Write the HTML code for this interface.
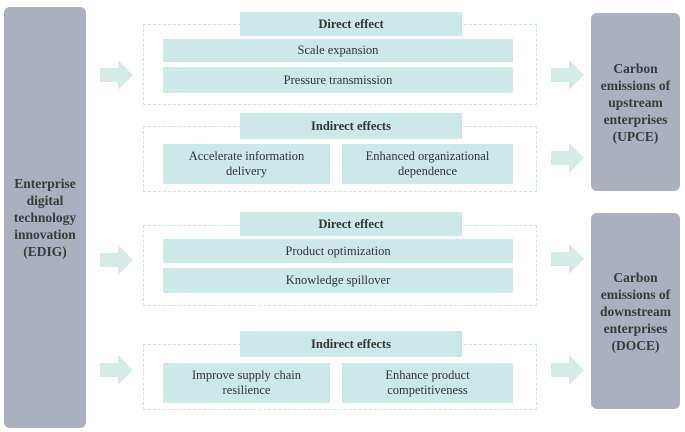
<!DOCTYPE html>
<html><head><style>
body{margin:0;width:685px;height:432px;background:#fff;position:relative;font-family:"Liberation Serif",serif;color:#333;overflow:hidden}
div{position:absolute;box-sizing:border-box}
.g{background:#aab0bd;border-radius:6px;display:flex;align-items:center;justify-content:center;text-align:center;font-weight:bold;font-size:13.5px;line-height:17px;color:#3a3a3a}
.d{border:1px dashed #cfe6e2}
.b{background:#cde8e8;display:flex;align-items:center;justify-content:center;text-align:center;font-size:12.5px;line-height:15px}
.h{font-weight:bold;font-size:12.5px}
svg{position:absolute}
</style></head><body>
<div class="g" style="left:4px;top:7px;width:82px;height:421px">Enterprise<br>digital<br>technology<br>innovation<br>(EDIG)</div>
<div class="g" style="left:591px;top:13px;width:89px;height:178px">Carbon<br>emissions of<br>upstream<br>enterprises<br>(UPCE)</div>
<div class="g" style="left:591px;top:213px;width:89px;height:196px">Carbon<br>emissions of<br>downstream<br>enterprises<br>(DOCE)</div>

<div class="d" style="left:143px;top:24px;width:394px;height:81px"></div>
<div class="b h" style="left:240px;top:12px;width:222px;height:24px">Direct effect</div>
<div class="b" style="left:163px;top:39px;width:350px;height:23px">Scale expansion</div>
<div class="b" style="left:163px;top:67px;width:350px;height:26px">Pressure transmission</div>

<div class="d" style="left:143px;top:126px;width:394px;height:66px"></div>
<div class="b h" style="left:240px;top:113px;width:222px;height:26px">Indirect effects</div>
<div class="b" style="left:163px;top:144px;width:167px;height:40px">Accelerate information<br>delivery</div>
<div class="b" style="left:342px;top:144px;width:171px;height:40px">Enhanced organizational<br>dependence</div>

<div class="d" style="left:143px;top:225px;width:394px;height:81px"></div>
<div class="b h" style="left:240px;top:212px;width:222px;height:24px">Direct effect</div>
<div class="b" style="left:163px;top:239px;width:350px;height:24px">Product optimization</div>
<div class="b" style="left:163px;top:268px;width:350px;height:25px">Knowledge spillover</div>

<div class="d" style="left:143px;top:344px;width:394px;height:66px"></div>
<div class="b h" style="left:240px;top:331px;width:222px;height:26px">Indirect effects</div>
<div class="b" style="left:163px;top:363px;width:167px;height:40px">Improve supply chain<br>resilience</div>
<div class="b" style="left:342px;top:363px;width:171px;height:40px">Enhance product<br>competitiveness</div>

<svg width="685" height="432" style="left:0;top:0">
<defs><polygon id="a" points="0,-7 18,-7 18,-15 33,0 18,15 18,7 0,7" fill="#d3ebe4"/></defs>
<use href="#a" x="100" y="75"/>
<use href="#a" x="100" y="260"/>
<use href="#a" x="100" y="370"/>
<use href="#a" x="551" y="75"/>
<use href="#a" x="551" y="158"/>
<use href="#a" x="551" y="259"/>
<use href="#a" x="551" y="370"/>
</svg>
</body></html>
